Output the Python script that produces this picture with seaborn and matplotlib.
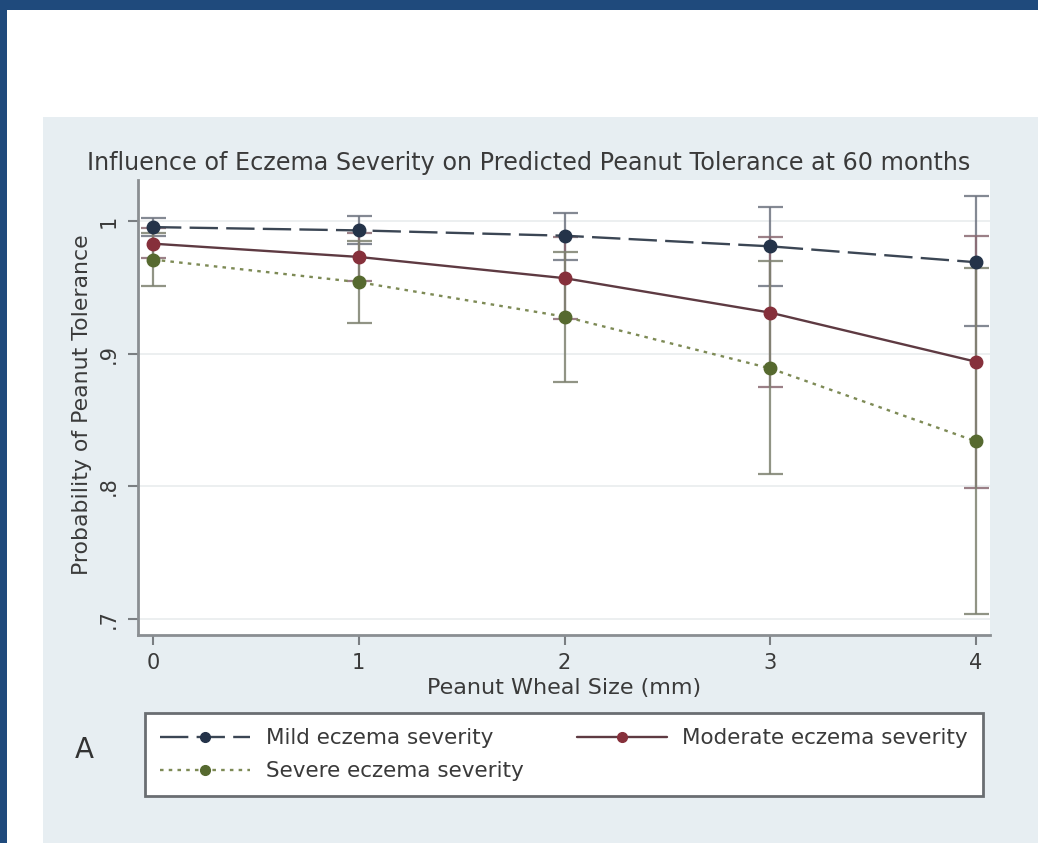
import matplotlib
matplotlib.use("Agg")
import matplotlib.pyplot as plt
from matplotlib.patches import Rectangle
import seaborn as sns
import pandas as pd

# ---- data ----
wheal = [0, 1, 2, 3, 4]
xtick_labels = ["0", "1", "2", "3", "4"]
ytick_vals = [0.7, 0.8, 0.9, 1.0]
ytick_labels = [".7", ".8", ".9", "1"]

mild = [0.9955, 0.993, 0.989, 0.981, 0.969]
mild_lo = [0.989, 0.983, 0.971, 0.951, 0.921]
mild_hi = [1.002, 1.004, 1.006, 1.011, 1.019]

moderate = [0.983, 0.973, 0.957, 0.931, 0.894]
moderate_lo = [0.972, 0.955, 0.926, 0.875, 0.799]
moderate_hi = [0.995, 0.991, 0.988, 0.988, 0.989]

severe = [0.971, 0.954, 0.928, 0.889, 0.834]
severe_lo = [0.951, 0.923, 0.879, 0.809, 0.704]
severe_hi = [0.991, 0.985, 0.977, 0.970, 0.965]

series_names = ["Mild eczema severity", "Moderate eczema severity", "Severe eczema severity"]

sns.set_theme(style="white")
plt.rcParams["font.family"] = ["DejaVu Sans"]

W, H = 1038, 843
fig = plt.figure(figsize=(W / 100, H / 100), dpi=100)
fig.patch.set_facecolor("white")

# background frame
fig.add_artist(Rectangle((43 / W, 0), 1 - 43 / W, (H - 117) / H, transform=fig.transFigure,
                         facecolor="#e7eef2", edgecolor="none", zorder=-3))
fig.add_artist(Rectangle((0, 1 - 10 / H), 1, 10 / H, transform=fig.transFigure,
                         facecolor="#1f4a7c", edgecolor="none", zorder=-2))
fig.add_artist(Rectangle((0, 0), 7 / W, 1, transform=fig.transFigure,
                         facecolor="#1f4a7c", edgecolor="none", zorder=-2))

ax = fig.add_axes([138 / W, 1 - 635 / H, (990 - 138) / W, (635 - 180) / H])
ax.set_facecolor("white")

rows = []
for name, vals in zip(series_names, [mild, moderate, severe]):
    for xv, yv in zip(wheal, vals):
        rows.append({"wheal": xv, "prob": yv, "series": name})
df = pd.DataFrame(rows)

line_colors = {series_names[0]: "#3b4654", series_names[1]: "#5e3a42", series_names[2]: "#7d8a55"}
marker_colors = {series_names[0]: "#243349", series_names[1]: "#86303b", series_names[2]: "#56692f"}
ci_colors = {series_names[0]: "#6f7480", series_names[1]: "#8a6a72", series_names[2]: "#7e8170"}
dashes = {series_names[0]: (12, 3.5), series_names[1]: "", series_names[2]: (1.5, 2.2)}

# confidence intervals
ci = [(mild, mild_lo, mild_hi), (moderate, moderate_lo, moderate_hi), (severe, severe_lo, severe_hi)]
for name, (v, lo, hi) in zip(series_names, ci):
    yerr = [[a - b for a, b in zip(v, lo)], [c - a for a, c in zip(v, hi)]]
    ax.errorbar(wheal, v, yerr=yerr, fmt="none", ecolor=ci_colors[name], alpha=0.85,
                elinewidth=1.6, capsize=9, capthick=1.6, zorder=2)

n_before = len(ax.get_lines())
sns.lineplot(data=df, x="wheal", y="prob", hue="series", style="series",
             palette=line_colors, dashes=dashes, markers={n: "o" for n in series_names},
             markersize=9, linewidth=1.7, ax=ax, zorder=3)
series_lines = ax.get_lines()[n_before:n_before + 3]
for name, ln in zip(series_names, series_lines):
    ln.set_markerfacecolor(marker_colors[name])
    ln.set_markeredgecolor(marker_colors[name])
    ln.set_markeredgewidth(1)

handles, labels = ax.get_legend_handles_labels()
ax.get_legend().remove()
hmap = dict(zip(labels, handles))
for name in series_names:
    h = hmap[name]
    h.set_markerfacecolor(marker_colors[name])
    h.set_markeredgecolor(marker_colors[name])
    h.set_markeredgewidth(1)
    h.set_markersize(7)

ax.set_xlim(-0.073, 4.068)
ax.set_ylim(0.688, 1.031)
ax.set_xticks(wheal)
ax.set_xticklabels(xtick_labels)
ax.set_yticks(ytick_vals)
ax.set_yticklabels(ytick_labels, rotation=90, va="center")
ax.set_xlabel("")
ax.set_ylabel("")
ax.grid(axis="y", color="#e9ecee", linewidth=1.2)
ax.grid(axis="x", visible=False)
for s in ["top", "right"]:
    ax.spines[s].set_visible(False)
for s in ["left", "bottom"]:
    ax.spines[s].set_color("#8a8e92")
    ax.spines[s].set_linewidth(2)
ax.tick_params(axis="both", direction="out", length=7, width=1.5, color="#7a7e82",
               labelsize=15, labelcolor="#3a3a3a")
ax.tick_params(axis="x", pad=6, bottom=True)
ax.tick_params(axis="y", pad=7, left=True)

txt = "#3a3a3a"
fig.text(529 / W, 1 - 163 / H, "Influence of Eczema Severity on Predicted Peanut Tolerance at 60 months",
         ha="center", va="center", fontsize=17.2, color=txt)
fig.text(82 / W, 1 - 405 / H, "Probability of Peanut Tolerance", rotation=90,
         ha="center", va="center", fontsize=15.8, color=txt)
fig.text(564 / W, 1 - 688 / H, "Peanut Wheal Size (mm)", ha="center", va="center",
         fontsize=16, color=txt)
fig.text(84 / W, 1 - 750 / H, "A", ha="center", va="center", fontsize=20, color="#333333")

leg = fig.legend([hmap[series_names[0]], hmap[series_names[2]], hmap[series_names[1]]],
                 [series_names[0], series_names[2], series_names[1]],
                 ncol=2, loc="upper left", mode="expand",
                 bbox_to_anchor=(145 / W, 1 - 796 / H, (983 - 145) / W, (796 - 713) / H),
                 fontsize=15.5, frameon=True, fancybox=False, framealpha=1, handlelength=4.2,
                 handletextpad=0.7, borderpad=0.7, labelspacing=0.62, borderaxespad=0)
leg.get_frame().set_edgecolor("#6a6e72")
leg.get_frame().set_linewidth(2)
leg.get_frame().set_facecolor("white")
for t in leg.get_texts():
    t.set_color(txt)

fig.savefig("out.png", dpi=100, facecolor=fig.get_facecolor())
